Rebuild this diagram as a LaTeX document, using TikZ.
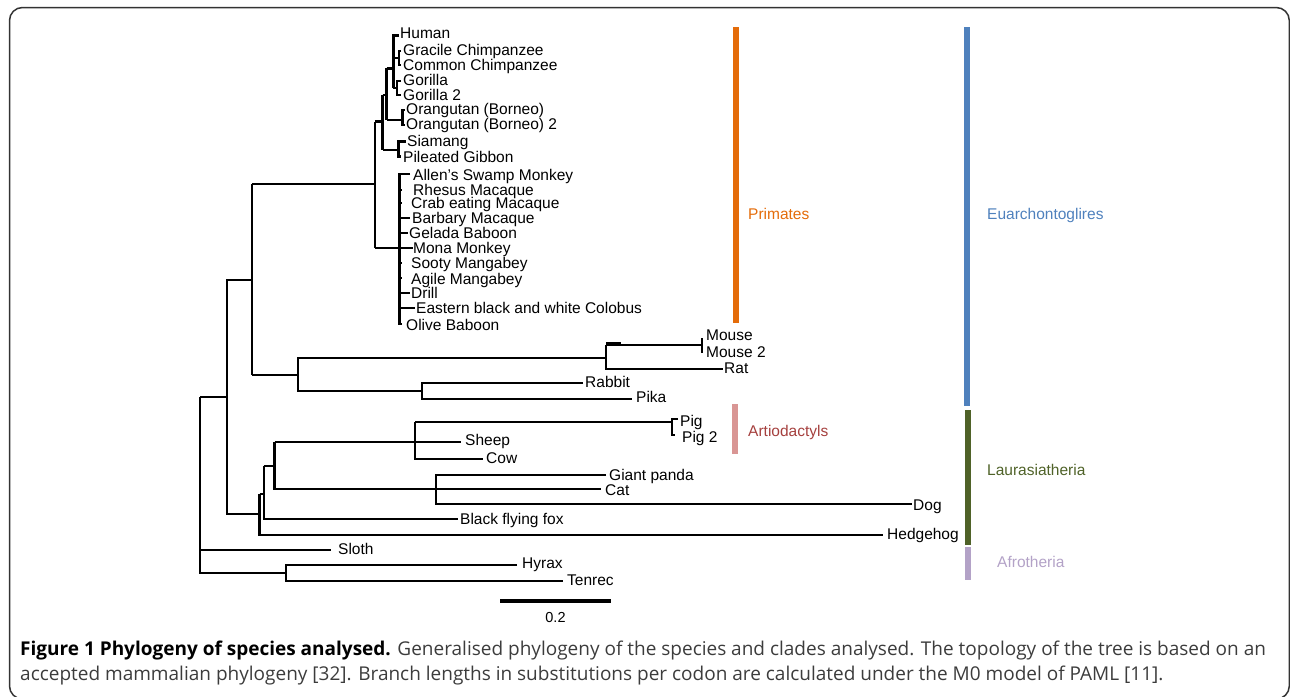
\documentclass[tikz,border=0pt]{standalone}
\usepackage{fontspec}
\setmainfont{Liberation Sans}
\newfontfamily\capfont{Open Sans}
\definecolor{cOrange}{HTML}{E46C0A}
\definecolor{cBlue}{HTML}{4F81BD}
\definecolor{cGreen}{HTML}{4F6228}
\definecolor{cPink}{HTML}{D99694}
\definecolor{cRed}{HTML}{A5403E}
\definecolor{cLav}{HTML}{B3A2C7}
\definecolor{cCap}{HTML}{3C3C3C}
\newcommand\leafnode[4]{\node[lab] (#1) at (#2,#3) {#4};}
\begin{document}
\begin{tikzpicture}[x=1pt,y=-1pt,
  br/.style={line width=2.6pt, line join=miter, line cap=butt},
  lab/.style={anchor=base west, inner sep=0pt, font=\fontsize{15.5}{18}\selectfont, yshift=-5.5pt},
  cladebar/.style={line width=6pt},
  cladelab/.style={lab},
  capstyle/.style={anchor=base west, inner sep=0pt, font=\capfont\fontsize{19}{23}\selectfont, text=cCap}]
\useasboundingbox (0,0) rectangle (1290,696);
\begin{scope}
\clip (0,0) rectangle (1290,696);
\draw[line width=1.5pt, draw=black!80, rounded corners=13pt] (9.5,7.5) rectangle (1289.3,699);
\end{scope}

% ---------------- Primates ----------------
% Old World monkeys
\draw[br] (410,174) -- (399.3,174) -- (399.3,324) -- (402,324);
\foreach \y/\x in {190/402,203/402,218/410,233/408,263/402,278/402,293/410,308/415}
  \draw[br] (399.3,\y) -- (\x,\y);
\draw[br] (375,248) -- (413,248);
% primates node
\draw[br] (252,184) -- (375,184);
\draw[br] (375,121.7) -- (375,248);
\draw[br] (375,121.7) -- (382.7,121.7);
% Hominoidea
\draw[br] (382.7,95) -- (382.7,150);
\draw[br] (406,141.7) -- (398.3,141.7) -- (398.3,156.7) -- (401,156.7);
\draw[br] (382.7,150) -- (398.3,150);
\draw[br] (382.7,95) -- (386.7,95);
\draw[br] (386.7,68.3) -- (386.7,120);
\draw[br] (386.7,120) -- (402.7,120);
\draw[br] (405,110) -- (402.7,110) -- (402.7,125) -- (405,125);
\draw[br] (386.7,68.3) -- (393.3,68.3);
\draw[br] (399,35.7) -- (393.3,35.7) -- (393.3,88);
\draw[br] (393.3,58) -- (399,58);
\draw[br] (401,51) -- (399,51) -- (399,65) -- (401,65);
\draw[br] (393.3,88) -- (397,88);
\draw[br] (401,81) -- (397,81) -- (397,95) -- (401,95);

\leafnode{human}{400}{33}{Human}
\leafnode{gchimp}{403}{50}{Gracile Chimpanzee}
\leafnode{cchimp}{403}{65}{Common Chimpanzee}
\leafnode{gorilla}{403}{80}{Gorilla}
\leafnode{gorilla2}{403}{95}{Gorilla 2}
\leafnode{orang}{406}{109}{Orangutan (Borneo)}
\leafnode{orang2}{406}{124}{Orangutan (Borneo) 2}
\leafnode{siamang}{407}{141}{Siamang}
\leafnode{gibbon}{403}{157}{Pileated Gibbon}
\leafnode{allen}{413}{175}{Allen’s Swamp Monkey}
\leafnode{rhesus}{413}{190}{Rhesus Macaque}
\leafnode{crab}{411}{203}{Crab eating Macaque}
\leafnode{barbary}{412}{218}{Barbary Macaque}
\leafnode{gelada}{409}{233}{Gelada Baboon}
\leafnode{mona}{413}{248}{Mona Monkey}
\leafnode{sooty}{411}{263}{Sooty Mangabey}
\leafnode{agile}{411}{279}{Agile Mangabey}
\leafnode{drill}{411}{293}{Drill}
\leafnode{colobus}{416}{308}{Eastern black and white Colobus}
\leafnode{olive}{406}{325}{Olive Baboon}

% ---------------- Glires ----------------
\draw[br] (252,184) -- (252,375);
\draw[br] (226,280) -- (252,280);
\draw[br] (252,375) -- (298,375);
\draw[br] (606,358) -- (298,358) -- (298,391) -- (422,391);
\draw[br] (702,345) -- (606,345);
\draw[br] (606,343.5) -- (621,343.5);
\draw[br] (606,345) -- (606,369) -- (723,369);
\draw[br] (702,338) -- (702,353);
\draw[br] (583,383) -- (422,383) -- (422,399) -- (632,399);
\leafnode{mouse}{706}{335}{Mouse}
\leafnode{mouse2}{706}{352}{Mouse 2}
\leafnode{rat}{724}{368}{Rat}
\leafnode{rabbit}{585}{382}{Rabbit}
\leafnode{pika}{636}{397}{Pika}

% ---------------- Laurasiatheria ----------------
\draw[br] (200,397) -- (226.8,397);
\draw[br] (226.8,280) -- (226.8,514) -- (259.6,514);
\draw[br] (259.6,494) -- (259.6,535) -- (883,535);
\draw[br] (259.6,494) -- (263.9,494);
\draw[br] (263.9,466) -- (263.9,519) -- (458,519);
\draw[br] (263.9,466) -- (274.6,466);
\draw[br] (274.6,442) -- (274.6,489) -- (600.5,489);
\draw[br] (274.6,442) -- (415,442) -- (461,442);
\draw[br] (415,422) -- (415,459) -- (483,459);
\draw[br] (415,422) -- (672,422);
\draw[br] (678,419) -- (672,419) -- (672,435) -- (675,435);
\draw[br] (606,475) -- (436,475) -- (436,504) -- (912,504);
\leafnode{pig}{680}{421}{Pig}
\leafnode{pig2}{682}{437}{Pig 2}
\leafnode{sheep}{465}{440}{Sheep}
\leafnode{cow}{486}{458}{Cow}
\leafnode{panda}{609}{475}{Giant panda}
\leafnode{cat}{605}{490}{Cat}
\leafnode{dog}{913}{505}{Dog}
\leafnode{fox}{460}{519}{Black flying fox}
\leafnode{hedgehog}{887}{534}{Hedgehog}

% ---------------- root, Xenarthra, Afrotheria ----------------
\draw[br] (200,397) -- (200,573) -- (286,573);
\draw[br] (200,550) -- (331,550);
\draw[br] (517,565) -- (286,565) -- (286,581) -- (563,581);
\leafnode{sloth}{338}{549}{Sloth}
\leafnode{hyrax}{522}{563}{Hyrax}
\leafnode{tenrec}{567}{580}{Tenrec}

% ---------------- clade bars ----------------
\draw[cladebar, cOrange] (736,27) -- (736,323);
\draw[cladebar, cBlue] (967,27) -- (967,406);
\draw[cladebar, cPink] (735,404) -- (735,454);
\draw[cladebar, cGreen] (968,410) -- (968,545);
\draw[cladebar, cLav] (968,547) -- (968,580);
\node[cladelab, text=cOrange] (primates) at (748,214) {Primates};
\node[cladelab, text=cBlue] (euarch) at (987,214) {Euarchontoglires};
\node[cladelab, text=cRed] (artio) at (748,431) {Artiodactyls};
\node[cladelab, text=cGreen] (laura) at (987,470) {Laurasiatheria};
\node[cladelab, text=cLav] (afro) at (997,562) {Afrotheria};

% ---------------- scale bar ----------------
\draw[line width=4pt] (500,601) -- (611,601);
\node[font=\fontsize{14.5}{17}\selectfont, inner sep=0pt] (scale) at (555.5,618) {0.2};

% ---------------- caption ----------------
\node[capstyle] (cap1) at (20,655)
  {\textbf{\color{black}Figure 1 Phylogeny of species analysed.} Generalised phylogeny of the species and clades analysed. The topology of the tree is based on an};
\node[capstyle] (cap2) at (20,680)
  {accepted mammalian phylogeny [32]. Branch lengths in substitutions per codon are calculated under the M0 model of PAML [11].};
\end{tikzpicture}
\end{document}
